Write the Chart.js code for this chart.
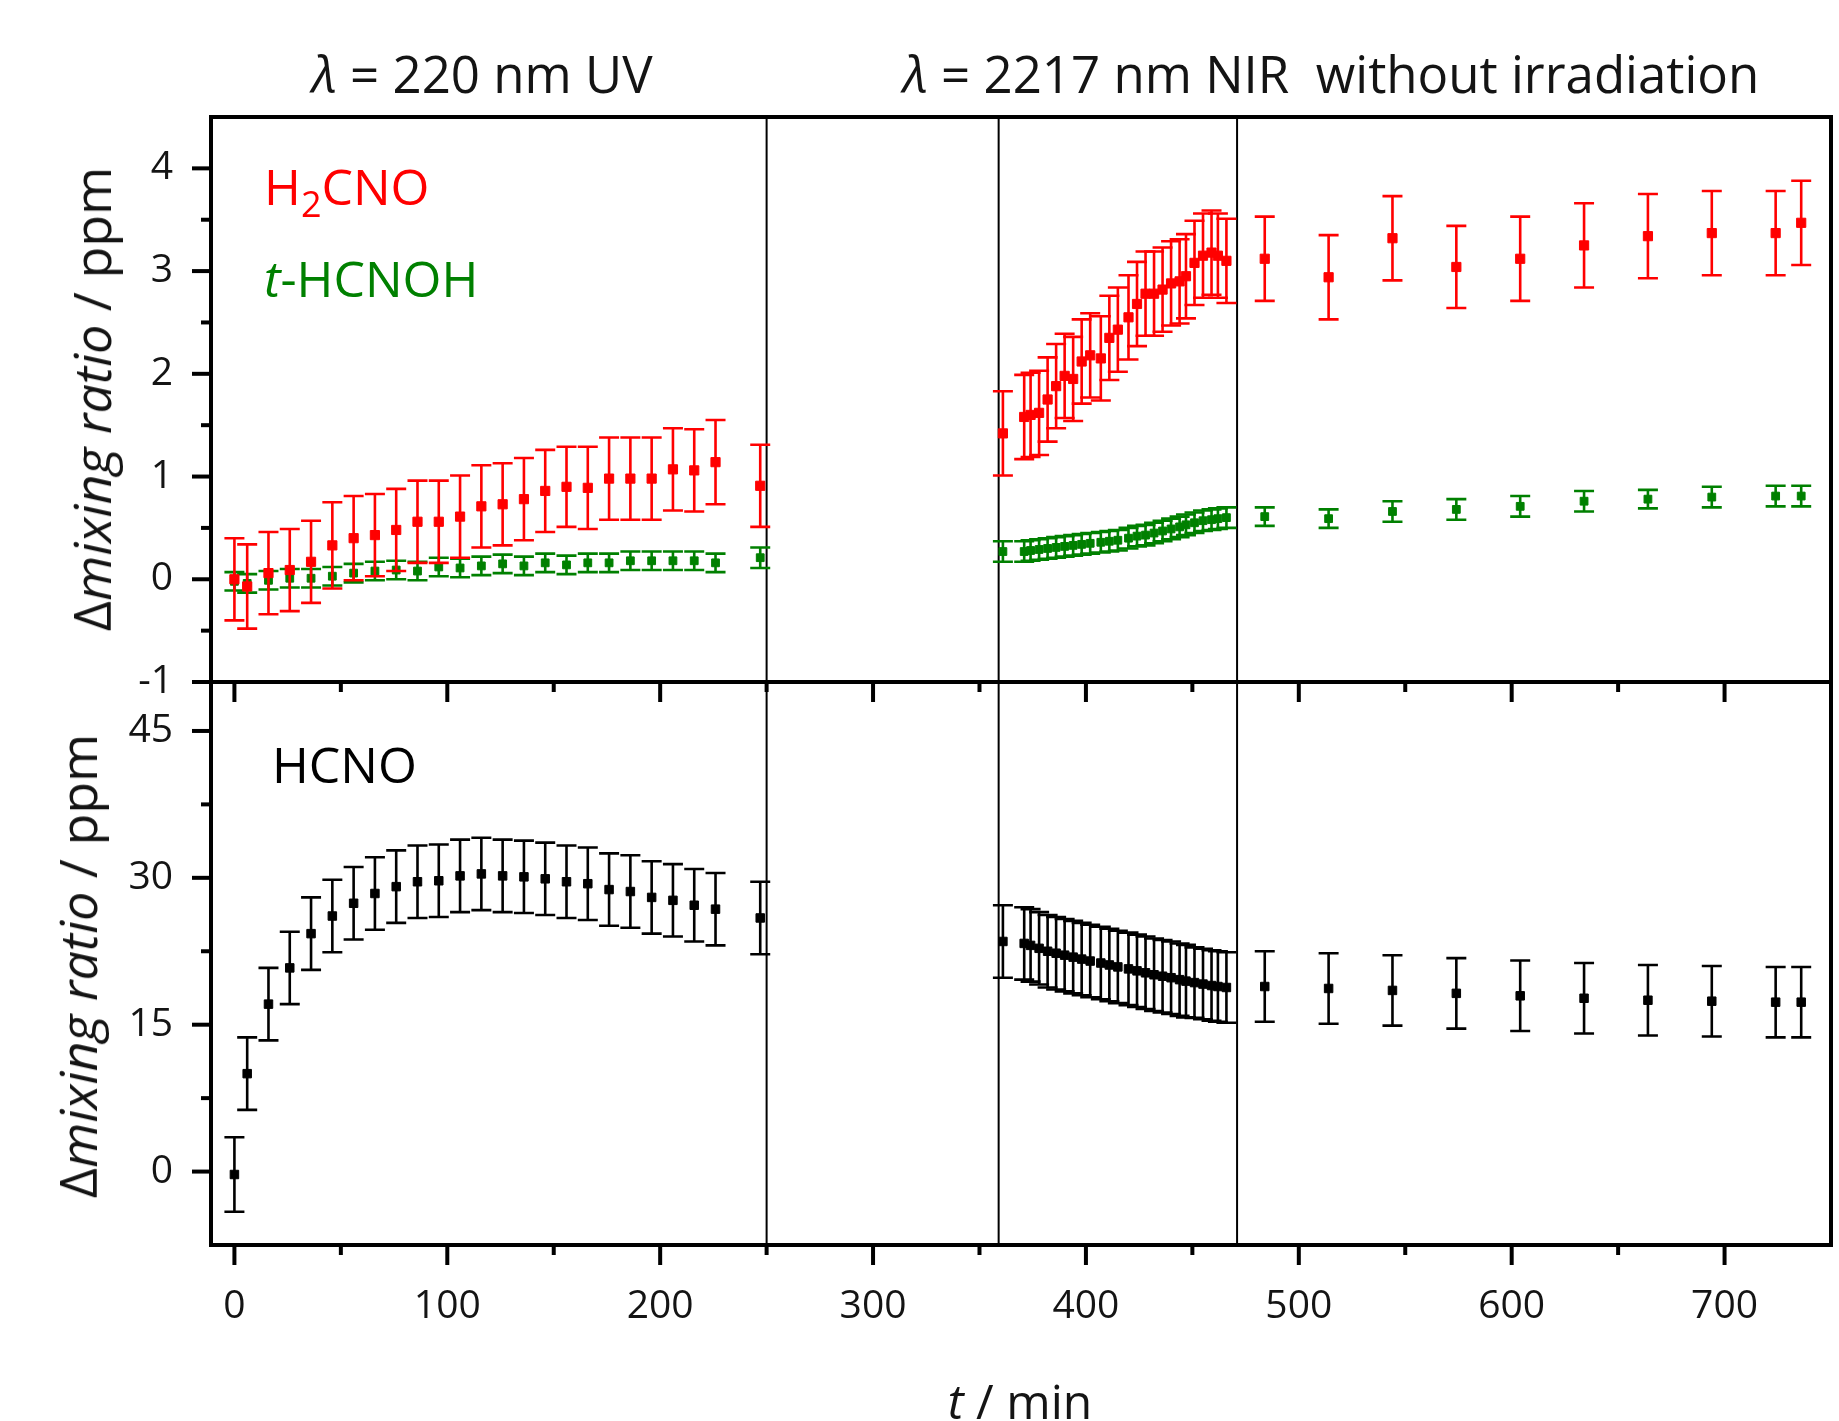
<!DOCTYPE html>
<html>
<head>
<meta charset="utf-8">
<title>Mixing ratio vs time</title>
<script src="https://cdn.jsdelivr.net/npm/chart.js@4.4.1/dist/chart.umd.min.js"></script>
<style>
  html, body { margin: 0; padding: 0; background: #fff; overflow: hidden; }
  #page { position: relative; width: 1839px; height: 1421px; font-family: 'Open Sans', sans-serif; color: #141414; }
  #page canvas { position: absolute; left: 0; top: 0; }
  .lbl { position: absolute; white-space: pre; font-size: 48px; line-height: 48px; }
  .title { font-size: 51px; line-height: 51px; }
  .species { font-size: 50px; line-height: 50px; }
  .ytitle { font-size: 52px; line-height: 52px; transform: translate(-50%, -50%) rotate(-90deg); }
  .sub { position: relative; top: 0.32em; font-size: 0.72em; }
</style>
</head>
<body>
<div id="page">
  <canvas id="topChart" width="1839" height="1421"></canvas>
  <canvas id="bottomChart" width="1839" height="1421"></canvas>

  <div class="lbl title" style="left:312px; top:48px;"><i>λ</i> = 220 nm UV</div>
  <div class="lbl title" style="left:903px; top:48px;"><i>λ</i> = 2217 nm NIR  without irradiation</div>

  <div class="lbl species" style="left:264px; top:161px; color:#ff0000;">H<span class="sub">2</span>CNO</div>
  <div class="lbl species" style="left:264px; top:253px; color:#008000;"><i>t</i>-HCNOH</div>
  <div class="lbl species" style="left:272px; top:739px; color:#000;">HCNO</div>

  <div class="lbl ytitle" style="left:91px; top:399px;">Δ<i>mixing ratio</i> / ppm</div>
  <div class="lbl ytitle" style="left:77px; top:966px;">Δ<i>mixing ratio</i> / ppm</div>

  <div class="lbl" style="left:1020px; top:1377px; transform: translateX(-50%);"><i>t</i> / min</div>
</div>

<script>
// time axis (min): UV period, NIR period, then dark period
const timeMin = [
  0, 6, 16, 26, 36, 46, 56, 66, 76, 86, 96, 106, 116, 126, 136, 146, 156, 166, 176, 186, 196, 206, 216, 226, 247,
  361, 371, 374, 378, 382, 386, 390, 394, 398, 402, 407, 411, 415, 420, 424, 428, 432, 436, 440, 444, 447, 451, 455, 459, 462, 466,
  484, 514, 544, 574, 604, 634, 664, 694, 724, 736
];

// H2CNO (ppm)
const h2cno = [
  0.00, -0.07, 0.06, 0.09, 0.17, 0.33, 0.40, 0.43, 0.48, 0.56, 0.56, 0.61, 0.71, 0.73, 0.78, 0.86, 0.90, 0.89, 0.98, 0.98, 0.98, 1.07, 1.06, 1.14, 0.91,
  1.42, 1.58, 1.60, 1.62, 1.75, 1.88, 1.98, 1.95, 2.12, 2.18, 2.15, 2.35, 2.43, 2.55, 2.68, 2.78, 2.78, 2.82, 2.88, 2.90, 2.95, 3.08, 3.15, 3.18, 3.15, 3.10,
  3.12, 2.94, 3.32, 3.04, 3.12, 3.25, 3.34, 3.37, 3.37, 3.47
];
const h2cnoErr = [
  0.40, 0.41, 0.40, 0.40, 0.40, 0.42, 0.41, 0.40, 0.40, 0.40, 0.40, 0.40, 0.40, 0.40, 0.40, 0.40, 0.39, 0.40, 0.40, 0.40, 0.40, 0.40, 0.40, 0.41, 0.40,
  0.41, 0.41, 0.41, 0.41, 0.41, 0.41, 0.41, 0.41, 0.41, 0.41, 0.41, 0.41, 0.41, 0.41, 0.41, 0.41, 0.41, 0.41, 0.41, 0.41, 0.41, 0.41, 0.41, 0.41, 0.41, 0.41,
  0.41, 0.41, 0.41, 0.40, 0.41, 0.41, 0.41, 0.41, 0.41, 0.41
];

// t-HCNOH (ppm)
const hcnoh = [
  -0.02, -0.04, -0.01, 0.01, 0.01, 0.03, 0.06, 0.08, 0.09, 0.08, 0.12, 0.11, 0.13, 0.15, 0.13, 0.16, 0.14, 0.16, 0.16, 0.18, 0.18, 0.18, 0.18, 0.16, 0.21,
  0.27, 0.27, 0.28, 0.29, 0.30, 0.31, 0.32, 0.33, 0.34, 0.35, 0.36, 0.37, 0.38, 0.40, 0.42, 0.43, 0.45, 0.47, 0.49, 0.51, 0.53, 0.55, 0.57, 0.58, 0.59, 0.60,
  0.61, 0.59, 0.66, 0.68, 0.71, 0.76, 0.78, 0.80, 0.81, 0.81
];
const hcnohErr = [
  0.09, 0.09, 0.09, 0.09, 0.09, 0.09, 0.09, 0.09, 0.09, 0.09, 0.09, 0.09, 0.09, 0.09, 0.09, 0.09, 0.09, 0.09, 0.09, 0.09, 0.09, 0.09, 0.09, 0.09, 0.10,
  0.10, 0.10, 0.10, 0.10, 0.10, 0.10, 0.10, 0.10, 0.10, 0.10, 0.10, 0.10, 0.10, 0.10, 0.10, 0.10, 0.10, 0.10, 0.10, 0.10, 0.10, 0.10, 0.10, 0.10, 0.10, 0.10,
  0.09, 0.09, 0.10, 0.10, 0.10, 0.10, 0.09, 0.10, 0.10, 0.10
];

// HCNO (ppm)
const hcno = [
  -0.3, 10.0, 17.1, 20.8, 24.3, 26.1, 27.4, 28.4, 29.1, 29.6, 29.7, 30.2, 30.4, 30.2, 30.1, 29.9, 29.6, 29.4, 28.8, 28.6, 28.0, 27.7, 27.2, 26.8, 25.9,
  23.5, 23.3, 23.1, 22.8, 22.5, 22.3, 22.1, 21.9, 21.7, 21.5, 21.3, 21.1, 20.9, 20.7, 20.5, 20.3, 20.1, 19.95, 19.8, 19.6, 19.45, 19.3, 19.15, 19.0, 18.9, 18.8,
  18.9, 18.7, 18.5, 18.2, 17.95, 17.7, 17.5, 17.4, 17.3, 17.3
];
const hcnoErr = [
  3.8, 3.7, 3.7, 3.7, 3.7, 3.7, 3.7, 3.7, 3.7, 3.7, 3.7, 3.7, 3.7, 3.7, 3.7, 3.7, 3.7, 3.7, 3.7, 3.7, 3.7, 3.7, 3.7, 3.7, 3.7,
  3.7, 3.7, 3.7, 3.7, 3.7, 3.7, 3.7, 3.7, 3.7, 3.7, 3.7, 3.7, 3.7, 3.7, 3.7, 3.7, 3.7, 3.7, 3.7, 3.7, 3.7, 3.6, 3.6, 3.6, 3.6, 3.6,
  3.6, 3.6, 3.6, 3.6, 3.6, 3.6, 3.6, 3.6, 3.6, 3.6
];

// axes
const xMajorTicks = [0, 100, 200, 300, 400, 500, 600, 700];
const xMinorTicks = [50, 150, 250, 350, 450, 550, 650];
const topYTicks   = [-1, 0, 1, 2, 3, 4];
const topYMinor   = [-0.5, 0.5, 1.5, 2.5, 3.5];
const botYTicks   = [0, 15, 30, 45];
const botYMinor   = [7.5, 22.5, 37.5];
const periodLines = [250, 359, 471];   // UV end, NIR start, NIR end

const colors = {
  red:   '#ff0000',
  green: '#008000',
  black: '#000000',
  text:  '#141414'
};

Chart.defaults.font.family = "'Open Sans', sans-serif";
Chart.defaults.color = colors.text;

// ── error bars, drawn under each dataset's own markers ─────────────────────
const errorBars = {
  id: 'errorBars',
  beforeDatasetDraw(chart, args) {
    const ds  = chart.data.datasets[args.index];
    const xs  = chart.scales[args.meta.xAxisID];
    const ys  = chart.scales[args.meta.yAxisID];
    const ctx = chart.ctx;
    ctx.save();
    ctx.strokeStyle = ds.borderColor;
    ctx.lineWidth = 2.6;
    ds.data.forEach(p => {
      const px = xs.getPixelForValue(p.x);
      const hi = ys.getPixelForValue(p.y + p.err);
      const lo = ys.getPixelForValue(p.y - p.err);
      ctx.beginPath();
      ctx.moveTo(px, hi); ctx.lineTo(px, lo);
      ctx.moveTo(px - 10, hi); ctx.lineTo(px + 10, hi);
      ctx.moveTo(px - 10, lo); ctx.lineTo(px + 10, lo);
      ctx.stroke();
    });
    ctx.restore();
  }
};

// ── frame, period lines and tick marks ────────────────────────────────────
function seg(ctx, x1, y1, x2, y2) {
  ctx.beginPath(); ctx.moveTo(x1, y1); ctx.lineTo(x2, y2); ctx.stroke();
}

const frame = {
  id: 'frame',
  beforeDatasetsDraw(chart) {
    const {ctx, chartArea: a, scales} = chart;
    ctx.save();
    ctx.strokeStyle = '#000';
    ctx.lineWidth = 2;
    periodLines.forEach(v => {
      const px = scales.x.getPixelForValue(v);
      seg(ctx, px, a.top, px, a.bottom);
    });
    ctx.restore();
  },
  afterDraw(chart, args, opts) {
    const {ctx, chartArea: a, scales} = chart;
    ctx.save();
    ctx.strokeStyle = '#000';
    ctx.lineWidth = 4;
    ctx.strokeRect(a.left, a.top, a.right - a.left, a.bottom - a.top);

    opts.yMajor.forEach(v => { const py = scales.y.getPixelForValue(v); seg(ctx, a.left - 19, py, a.left, py); });
    opts.yMinor.forEach(v => { const py = scales.y.getPixelForValue(v); seg(ctx, a.left - 10, py, a.left, py); });

    if (opts.xTicks) {
      xMajorTicks.forEach(v => {
        const px = scales.x.getPixelForValue(v);
        seg(ctx, px, a.bottom, px, a.bottom + 20);   // outward, bottom
        seg(ctx, px, a.top, px, a.top + 20);         // inward, top
      });
      xMinorTicks.forEach(v => {
        const px = scales.x.getPixelForValue(v);
        seg(ctx, px, a.bottom, px, a.bottom + 10);
        seg(ctx, px, a.top, px, a.top + 10);
      });
    }
    ctx.restore();
  }
};

function makeSet(label, ys, errs, color, radius) {
  return {
    label: label,
    data: timeMin.map((t, i) => ({ x: t, y: ys[i], err: errs[i] })),
    borderColor: color,
    backgroundColor: color,
    pointStyle: 'rect',
    pointRadius: radius,
    pointBorderWidth: 1,
    showLine: false
  };
}

function yAxis(min, max, tickList) {
  return {
    type: 'linear',
    min: min,
    max: max,
    afterFit: s => { s.width = 211; },
    afterBuildTicks: s => { s.ticks = tickList.map(v => ({ value: v })); },
    grid: { display: false, drawTicks: false },
    border: { display: false },
    ticks: { padding: 38, color: colors.text, font: { size: 39 }, callback: v => String(v) }
  };
}

const common = {
  responsive: false,
  devicePixelRatio: 1,
  animation: false,
  events: [],
  plugins: { legend: { display: false }, tooltip: { enabled: false } }
};

// ── top panel: H2CNO and t-HCNOH ──────────────────────────────────────────
new Chart(document.getElementById('topChart'), {
  type: 'scatter',
  data: {
    datasets: [
      makeSet('H2CNO', h2cno, h2cnoErr, colors.red, 6.5),
      makeSet('t-HCNOH', hcnoh, hcnohErr, colors.green, 5.5)
    ]
  },
  options: Object.assign({}, common, {
    layout: { padding: { left: 0, right: 8, top: 117, bottom: 739 } },
    scales: {
      x: { type: 'linear', min: -11, max: 750, display: false },
      y: yAxis(-1, 4.5, topYTicks)
    },
    plugins: Object.assign({}, common.plugins, {
      frame: { yMajor: topYTicks, yMinor: topYMinor, xTicks: false }
    })
  }),
  plugins: [errorBars, frame]
});

// ── bottom panel: HCNO ────────────────────────────────────────────────────
new Chart(document.getElementById('bottomChart'), {
  type: 'scatter',
  data: {
    datasets: [ makeSet('HCNO', hcno, hcnoErr, colors.black, 6) ]
  },
  options: Object.assign({}, common, {
    layout: { padding: { left: 0, right: 8, top: 682, bottom: 0 } },
    scales: {
      x: {
        type: 'linear',
        min: -11,
        max: 750,
        afterFit: s => { s.height = 176; },
        afterBuildTicks: s => { s.ticks = xMajorTicks.map(v => ({ value: v })); },
        grid: { display: false, drawTicks: false },
        border: { display: false },
        ticks: { padding: 38, color: colors.text, font: { size: 39 }, maxRotation: 0, callback: v => String(v) }
      },
      y: yAxis(-7.5, 50, botYTicks)
    },
    plugins: Object.assign({}, common.plugins, {
      frame: { yMajor: botYTicks, yMinor: botYMinor, xTicks: true }
    })
  }),
  plugins: [errorBars, frame]
});
</script>
</body>
</html>
